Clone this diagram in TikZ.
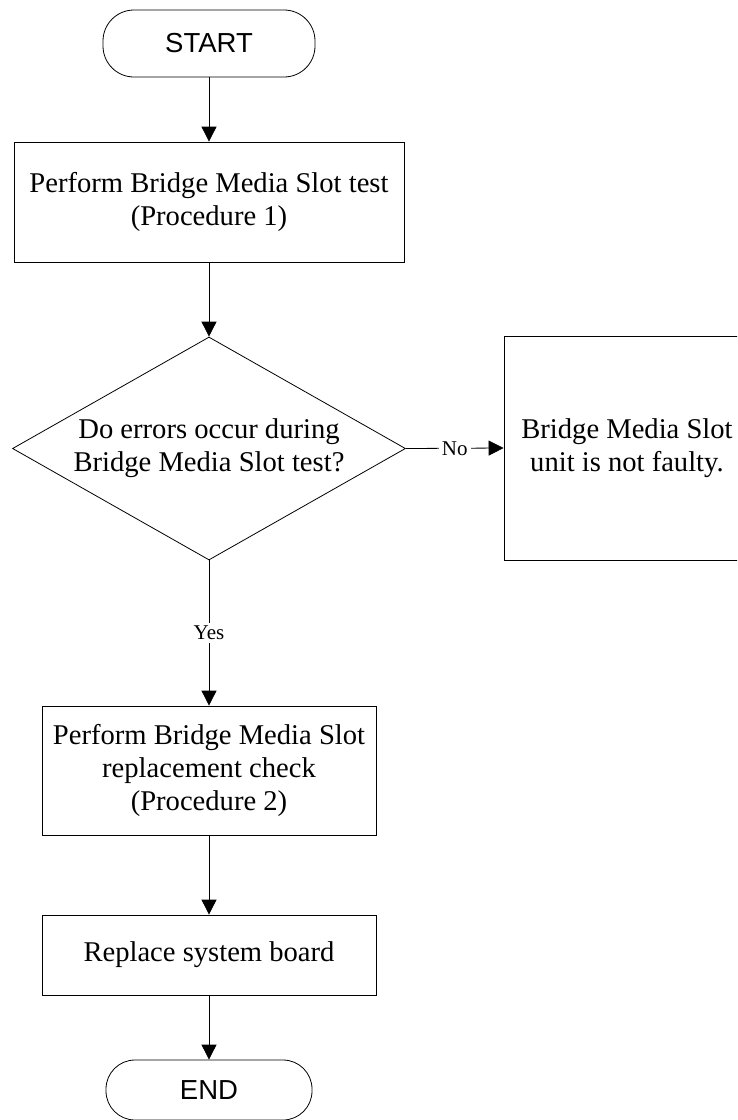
\documentclass[tikz,border=0pt]{standalone}
\usepackage{fontspec}
\setmainfont{Liberation Serif}
\newfontfamily\pillfont{Liberation Sans}
\usetikzlibrary{shapes.geometric,arrows.meta}
\tikzset{
  base/.style={draw=black, line width=0.8pt, align=center, inner sep=0pt,
    font=\fontsize{28.6}{33}\selectfont},
  procbox/.style={base, rectangle},
  pill/.style={base, rectangle, rounded corners=31pt,
    font=\pillfont\fontsize{27.5}{32}\selectfont},
  decision/.style={base, diamond, shape aspect=1.762},
  conn/.style={draw=black, line width=0.8pt, -{Triangle[length=15pt,width=15pt]}},
  lbl/.style={fill=white, inner sep=3pt, font=\fontsize{21}{24}\selectfont}
}
\begin{document}
\begin{tikzpicture}[x=1pt,y=-1pt]
\useasboundingbox (0,0) rectangle (737,1120);
\clip (0,0) rectangle (737,1120);
\node[pill, minimum width=212pt, minimum height=67pt] (start) at (209,43.5) {START};
\node[procbox, minimum width=390pt, minimum height=120pt] (b1) at (209,202)
  {Perform Bridge Media Slot test\\(Procedure 1)};
\node[decision, minimum width=393pt, minimum height=223pt] (dec) at (209,448.5)
  {\fontsize{28.6}{30}\selectfont Do errors occur during\\Bridge Media Slot test?};
\node[procbox, minimum width=246pt, minimum height=224pt] (rb) at (627,448)
  {Bridge Media Slot\\unit is not faulty.};
\node[procbox, minimum width=334pt, minimum height=129pt] (b2) at (209,770.5)
  {Perform Bridge Media Slot\\replacement check\\(Procedure 2)};
\node[procbox, minimum width=334pt, minimum height=80pt] (b3) at (209,955)
  {Replace system board};
\node[pill, minimum width=206pt, minimum height=60pt, rounded corners=29pt] (end) at (209,1090) {END};
\draw[conn] (start) -- (b1);
\draw[conn] (b1) -- (dec);
\draw[conn] (dec.east) -- node[lbl] {No} (rb.west);
\draw[conn] (dec.south) -- node[lbl] {Yes} (b2.north);
\draw[conn] (b2) -- (b3);
\draw[conn] (b3) -- (end);
\end{tikzpicture}
\end{document}
